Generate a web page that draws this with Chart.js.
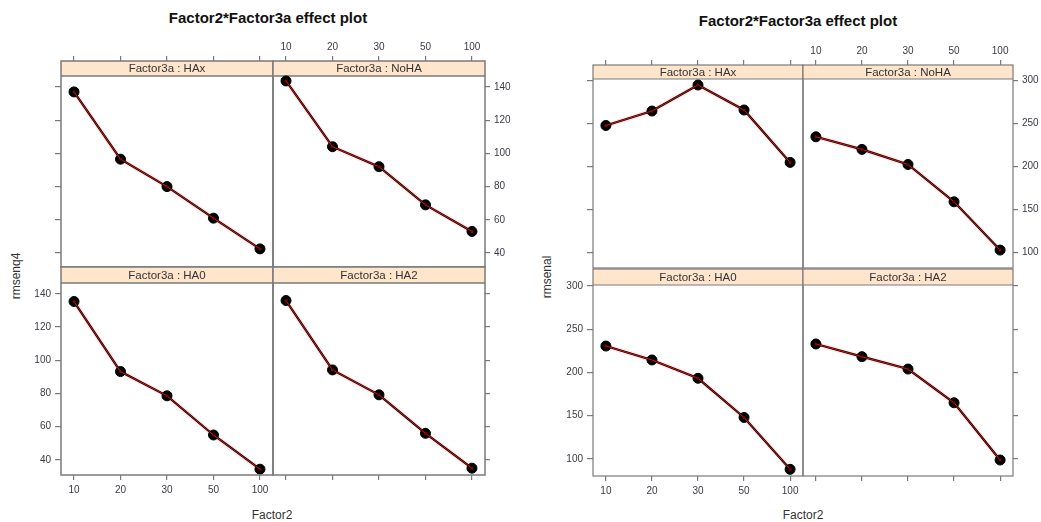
<!DOCTYPE html>
<html>
<head>
<meta charset="utf-8">
<script src="https://cdn.jsdelivr.net/npm/chart.js@4/dist/chart.umd.min.js"></script>
<style>
html,body{margin:0;padding:0;width:1041px;height:522px;overflow:hidden;background:#fff;font-family:"Liberation Sans",Arial,sans-serif;}
canvas{position:absolute;}
.t{position:absolute;white-space:nowrap;color:#000;}
.title{font-weight:bold;font-size:15px;transform:translate(-50%,-50%);color:#111;}
.xl{font-size:12px;color:#333;transform:translate(-50%,-50%);}
.yl{font-size:12px;color:#333;transform:translate(-50%,-50%) rotate(-90deg);}
</style>
</head>
<body>
<div class="t title" style="left:268px;top:17px;">Factor2*Factor3a effect plot</div>
<div class="t title" style="left:798px;top:20px;">Factor2*Factor3a effect plot</div>
<div class="t xl" style="left:272px;top:515px;">Factor2</div>
<div class="t xl" style="left:803px;top:515px;">Factor2</div>
<div class="t yl" style="left:16px;top:276px;">rmsenq4</div>
<div class="t yl" style="left:547px;top:277px;">rmsenal</div>
<script>
// ---- data ----
const categories = ['10', '20', '30', '50', '100'];
const panelNames = ['HAx', 'NoHA', 'HA0', 'HA2'];
const leftHAx  = [137.0, 96.5, 80.0, 61.0, 42.5];
const leftNoHA = [143.6, 104.0, 92.0, 69.0, 53.0];
const leftHA0  = [135.4, 93.2, 78.6, 55.0, 34.4];
const leftHA2  = [136.0, 94.2, 79.2, 56.0, 35.0];
const rightHAx  = [247.5, 264.3, 294.5, 265.5, 204.7];
const rightNoHA = [234.4, 219.8, 202.3, 159.0, 103.0];
const rightHA0  = [230.6, 214.5, 193.3, 148.0, 88.0];
const rightHA2  = [233.0, 218.3, 204.0, 165.0, 98.8];
const leftYTicks  = [40, 60, 80, 100, 120, 140];
const rightYTicks = [100, 150, 200, 250, 300];

// ---- layout ----
const M = 40;
const GRAY = '#7a7a7a';
const TICKCOL = '#3a3a44';
const FONT = '"Liberation Sans", Arial, sans-serif';

function axis(mode, position, isX, min, max, vals, labelFn, tl, pad) {
  return {
    type: 'linear', position: position, min: min, max: max, display: true,
    grid: { drawOnChartArea: false, drawTicks: mode !== null, tickLength: tl, color: GRAY, lineWidth: 1.2 },
    border: { display: false },
    ticks: { display: mode === 'labels', padding: pad, color: TICKCOL, autoSkip: false, maxRotation: 0, minRotation: 0,
             font: { family: FONT, size: 10 }, callback: labelFn },
    afterBuildTicks: s => { s.ticks = vals.map(v => ({ value: v })); },
    afterFit: s => { if (isX) s.height = M; else s.width = M; }
  };
}

const stripPlugin = {
  id: 'strip',
  beforeDatasetsDraw(chart) {
    const o = chart.options.plugins.strip; const a = chart.chartArea; const c = chart.ctx;
    c.save();
    c.fillStyle = '#FFE5CC';
    c.fillRect(a.left, a.top, a.right - a.left, o.h);
    c.fillStyle = '#333';
    c.font = '11.5px ' + FONT;
    c.textAlign = 'center'; c.textBaseline = 'middle';
    c.fillText('Factor3a : ' + o.name, (a.left + a.right) / 2, a.top + o.h / 2 + 0.5);
    c.strokeStyle = GRAY; c.lineWidth = o.lw;
    c.beginPath(); c.moveTo(a.left, a.top + o.h); c.lineTo(a.right, a.top + o.h); c.stroke();
    c.restore();
  },
  afterDraw(chart) {
    const o = chart.options.plugins.strip; const a = chart.chartArea; const c = chart.ctx;
    c.save(); c.strokeStyle = GRAY; c.lineWidth = o.lw;
    c.strokeRect(a.left, a.top, a.right - a.left, a.bottom - a.top);
    c.restore();
  }
};

function panel(id, l, t, w, h, stripH, yMin, yMax, yVals, values, name, modes, lw) {
  const cv = document.createElement('canvas');
  cv.width = w + 2 * M; cv.height = h + 2 * M;
  cv.style.left = (l - M) + 'px'; cv.style.top = (t - M) + 'px';
  cv.style.width = cv.width + 'px'; cv.style.height = cv.height + 'px';
  document.body.appendChild(cv);
  const pts = values.map((v, i) => ({ x: i + 1, y: v }));
  const xv = categories.map((c, i) => i + 1);
  const xl = (v) => categories[Math.round(v) - 1];
  const yl = (v) => String(v);
  new Chart(cv, {
    type: 'line',
    data: { datasets: [
      { data: pts, borderColor: 'rgba(255,130,130,0.18)', borderWidth: 5, pointRadius: 0, order: 3, xAxisID: 'x', yAxisID: 'y' },
      { data: pts, borderColor: '#000', borderWidth: 2.2, pointRadius: 5, pointBackgroundColor: '#000', pointBorderColor: '#000', pointBorderWidth: 1, order: 2, xAxisID: 'x', yAxisID: 'y' },
      { data: pts, borderColor: '#d81414', borderWidth: 1, pointRadius: 1.5, pointBackgroundColor: '#8a0000', pointBorderWidth: 0, order: 1, xAxisID: 'x', yAxisID: 'y' }
    ] },
    options: {
      responsive: false, animation: false, devicePixelRatio: 1,
      layout: { padding: 0 },
      plugins: { legend: { display: false }, tooltip: { enabled: false }, strip: { h: stripH, name: name, lw: lw } },
      scales: {
        x:  axis(modes.bottom, 'bottom', true, 0.72, 5.28, xv, xl, 5, 4),
        x2: axis(modes.top, 'top', true, 0.72, 5.28, xv, xl, 5, 3),
        y:  axis(modes.left, 'left', false, yMin, yMax, yVals, yl, 6, 4),
        y2: axis(modes.right, 'right', false, yMin, yMax, yVals, yl, 5, 4)
      }
    },
    plugins: [stripPlugin]
  });
}

// left plot
panel('l1', 61, 61, 212, 206, 15, 31.6, 155.6, leftYTicks, leftHAx,  panelNames[0], { top: 'ticks',  left: 'ticks',  right: null,     bottom: null }, 1.5);
panel('l2', 273, 61, 212, 206, 15, 31.6, 155.6, leftYTicks, leftNoHA, panelNames[1], { top: 'labels', left: null,     right: 'labels', bottom: null }, 1.5);
panel('l3', 61, 267, 212, 208, 16, 30.9, 156.2, leftYTicks, leftHA0,  panelNames[2], { top: null,     left: 'labels', right: null,     bottom: 'labels' }, 1.5);
panel('l4', 273, 267, 212, 208, 16, 30.9, 156.2, leftYTicks, leftHA2,  panelNames[3], { top: null,     left: null,     right: 'ticks',  bottom: 'ticks' }, 1.5);
// right plot
panel('r1', 593, 65, 210, 203, 14, 82.2, 317.7, rightYTicks, rightHAx,  panelNames[0], { top: 'ticks',  left: 'ticks',  right: null,     bottom: null }, 1.2);
panel('r2', 803, 65, 210, 203, 14, 82.2, 317.7, rightYTicks, rightNoHA, panelNames[1], { top: 'labels', left: null,     right: 'labels', bottom: null }, 1.2);
panel('r3', 593, 269, 210, 207, 16, 80.3, 319.7, rightYTicks, rightHA0,  panelNames[2], { top: null,     left: 'labels', right: null,     bottom: 'labels' }, 1.2);
panel('r4', 803, 269, 210, 207, 16, 80.3, 319.7, rightYTicks, rightHA2,  panelNames[3], { top: null,     left: null,     right: 'ticks',  bottom: 'ticks' }, 1.2);
</script>
</body>
</html>
